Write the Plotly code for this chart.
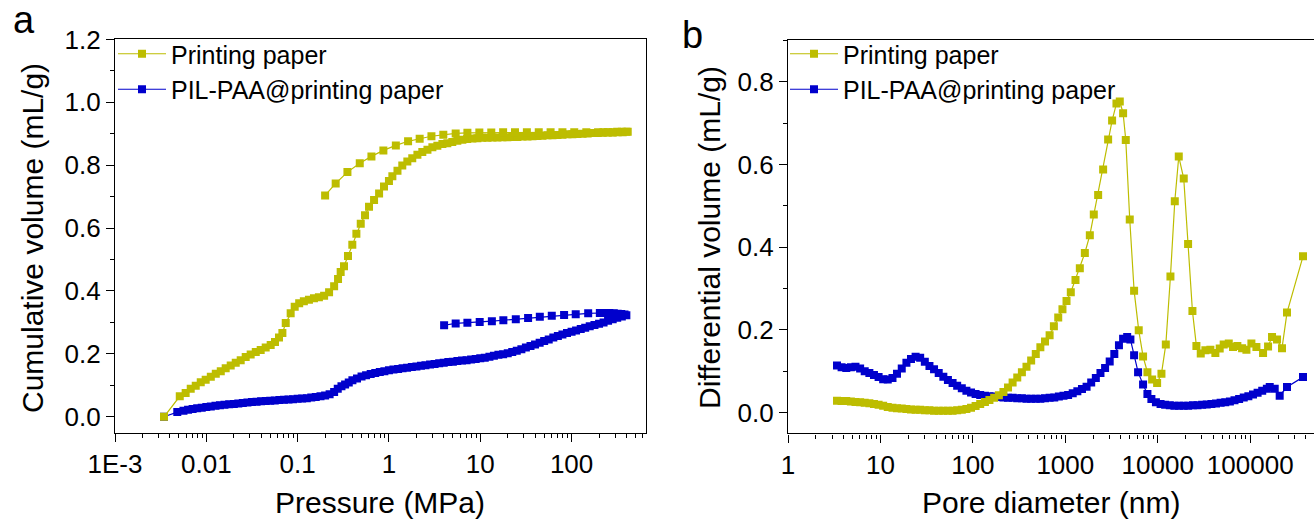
import plotly.graph_objects as go

# ---------------- Panel a: cumulative intrusion (pressure, MPa) ----------------
pp_press_intr = [0.00344, 0.00512, 0.00594, 0.00675, 0.00766, 0.00869, 0.00984, 0.0112, 0.0127, 0.0144,
                 0.0163, 0.0185, 0.0210, 0.0238, 0.0270, 0.0306, 0.0348, 0.0394, 0.0447, 0.0507,
                 0.0565, 0.0625, 0.0681, 0.0741, 0.0839, 0.0929, 0.104, 0.117, 0.133, 0.151,
                 0.171, 0.195, 0.221, 0.251, 0.277, 0.296, 0.322, 0.356, 0.397, 0.440,
                 0.491, 0.547, 0.605, 0.687, 0.780, 0.883, 1.00, 1.09, 1.24, 1.40,
                 1.59, 1.80, 2.05, 2.32, 2.64, 2.99, 3.39, 3.85, 4.36, 4.94,
                 5.61, 6.37, 7.2, 8.2, 9.3, 10.5, 12.0, 13.6, 15.4, 17.5,
                 19.8, 22.5, 25.5, 29.0, 32.9, 37.3, 42.3, 48.0, 54.5, 61.8,
                 70.1, 79.5, 90.2, 102, 116, 132, 150, 170, 193, 219,
                 248, 282, 320, 363, 412]
pp_vol_intr = [0.000, 0.065, 0.076, 0.089, 0.099, 0.110, 0.118, 0.127, 0.137, 0.145,
               0.154, 0.163, 0.172, 0.180, 0.190, 0.198, 0.206, 0.212, 0.220, 0.228,
               0.238, 0.252, 0.266, 0.298, 0.329, 0.350, 0.361, 0.367, 0.372, 0.377,
               0.380, 0.385, 0.396, 0.415, 0.438, 0.460, 0.479, 0.511, 0.547, 0.582,
               0.614, 0.641, 0.668, 0.689, 0.710, 0.732, 0.750, 0.765, 0.782, 0.799,
               0.812, 0.822, 0.833, 0.842, 0.849, 0.857, 0.862, 0.867, 0.870, 0.874,
               0.878, 0.881, 0.883, 0.885, 0.886, 0.887, 0.887, 0.888, 0.888, 0.889,
               0.889, 0.890, 0.890, 0.891, 0.891, 0.892, 0.893, 0.894, 0.895, 0.895,
               0.896, 0.897, 0.898, 0.898, 0.899, 0.900, 0.901, 0.902, 0.902, 0.903,
               0.904, 0.904, 0.905, 0.905, 0.906]
pp_press_extr = [398, 355, 316, 282, 251, 224, 195, 145, 107, 79.4,
                 58.9, 43.7, 32.4, 24.0, 17.8, 13.2, 9.77, 7.23, 5.38, 3.94,
                 2.92, 2.17, 1.62, 1.19, 0.869, 0.643, 0.479, 0.351, 0.261, 0.200]
pp_vol_extr = [0.906, 0.906, 0.906, 0.905, 0.905, 0.905, 0.905, 0.905, 0.905, 0.905,
               0.905, 0.905, 0.905, 0.905, 0.905, 0.904, 0.904, 0.903, 0.901, 0.897,
               0.892, 0.884, 0.876, 0.863, 0.847, 0.828, 0.806, 0.778, 0.742, 0.704]

pil_press_intr = [0.00344, 0.00481, 0.00562, 0.00631, 0.00708, 0.00794, 0.00891, 0.0100, 0.0112, 0.0126,
                  0.0141, 0.0158, 0.0178, 0.0200, 0.0224, 0.0251, 0.0282, 0.0316, 0.0355, 0.0398,
                  0.0447, 0.0501, 0.0562, 0.0631, 0.0708, 0.0794, 0.0891, 0.100, 0.112, 0.126,
                  0.141, 0.158, 0.178, 0.200, 0.224, 0.251, 0.275, 0.302, 0.331, 0.363,
                  0.398, 0.447, 0.501, 0.562, 0.631, 0.708, 0.794, 0.891, 1.00, 1.12,
                  1.26, 1.41, 1.58, 1.78, 2.00, 2.24, 2.51, 2.82, 3.16, 3.55,
                  3.98, 4.47, 5.01, 5.62, 6.31, 7.08, 7.94, 8.91, 10.0, 11.2,
                  12.6, 14.1, 15.8, 17.8, 20.0, 22.4, 25.1, 28.2, 31.6, 35.5,
                  39.8, 44.7, 50.1, 56.2, 63.1, 70.8, 79.4, 89.1, 100, 112,
                  126, 141, 158, 178, 200, 224, 251, 282, 316, 355, 398]
pil_vol_intr = [0.000, 0.015, 0.019, 0.022, 0.025, 0.027, 0.029, 0.031, 0.033, 0.035,
                0.037, 0.038, 0.040, 0.041, 0.042, 0.044, 0.045, 0.047, 0.048, 0.049,
                0.050, 0.051, 0.052, 0.053, 0.054, 0.055, 0.056, 0.057, 0.058, 0.059,
                0.061, 0.063, 0.065, 0.068, 0.072, 0.079, 0.089, 0.097, 0.103, 0.109,
                0.116, 0.122, 0.128, 0.132, 0.136, 0.139, 0.142, 0.145, 0.148, 0.150,
                0.152, 0.154, 0.156, 0.158, 0.160, 0.162, 0.164, 0.166, 0.168, 0.170,
                0.172, 0.174, 0.175, 0.177, 0.179, 0.180, 0.182, 0.184, 0.186, 0.188,
                0.191, 0.194, 0.197, 0.199, 0.202, 0.206, 0.210, 0.215, 0.220, 0.225,
                0.230, 0.235, 0.241, 0.246, 0.252, 0.257, 0.262, 0.266, 0.270, 0.274,
                0.279, 0.283, 0.288, 0.292, 0.296, 0.300, 0.305, 0.310, 0.315, 0.319, 0.323]
pil_press_extr = [380, 350, 320, 290, 260, 230, 204, 152, 111, 82.8,
                  60.7, 44.9, 33.4, 24.5, 17.9, 13.4, 9.86, 7.23, 5.38, 4.02]
pil_vol_extr = [0.325, 0.327, 0.328, 0.329, 0.330, 0.330, 0.330, 0.329, 0.326, 0.324,
                0.321, 0.318, 0.314, 0.310, 0.307, 0.304, 0.301, 0.299, 0.297, 0.291]

# ---------------- Panel b: differential volume vs pore diameter (nm) ----------------
pp_diam = [3.39, 3.80, 4.27, 4.79, 5.37, 6.03, 6.76, 7.59, 8.51, 9.55,
           10.7, 12.0, 13.5, 15.1, 17.0, 19.1, 21.4, 24.0, 26.9, 30.2,
           33.9, 38.0, 42.7, 47.9, 53.7, 60.3, 67.6, 75.9, 85.1, 95.5,
           107, 120, 135, 151, 170, 191, 214, 240, 269, 302,
           339, 380, 427, 479, 537, 603, 676, 752, 838, 931,
           1030, 1146, 1288, 1435, 1626, 1841, 2032, 2265, 2564, 2904,
           3206, 3573, 3882, 4217, 4508, 4977, 5546, 6223, 6934, 7727,
           8690, 9840, 10960, 12220, 13710, 15280, 16870, 19100, 21280, 23710,
           26180, 29170, 32730, 37070, 41980, 46770, 51640, 58610, 65160, 72610,
           81660, 90990, 103000, 116700, 137700, 156000, 172200, 195000, 220800, 250000,
           372400]
pp_dvol = [0.029, 0.028, 0.028, 0.027, 0.026, 0.025, 0.024, 0.023, 0.021, 0.019,
           0.017, 0.014, 0.012, 0.011, 0.010, 0.009, 0.008, 0.007, 0.007, 0.006,
           0.006, 0.005, 0.005, 0.005, 0.005, 0.005, 0.006, 0.007, 0.009, 0.012,
           0.016, 0.021, 0.026, 0.031, 0.036, 0.042, 0.050, 0.061, 0.073, 0.085,
           0.098, 0.111, 0.126, 0.142, 0.158, 0.172, 0.187, 0.209, 0.230, 0.250,
           0.270, 0.291, 0.321, 0.349, 0.386, 0.429, 0.479, 0.526, 0.588, 0.660,
           0.706, 0.747, 0.752, 0.724, 0.659, 0.467, 0.295, 0.199, 0.136, 0.098,
           0.080, 0.072, 0.094, 0.165, 0.329, 0.511, 0.619, 0.566, 0.408, 0.246,
           0.161, 0.143, 0.151, 0.152, 0.144, 0.155, 0.165, 0.167, 0.159, 0.161,
           0.156, 0.152, 0.167, 0.159, 0.144, 0.160, 0.183, 0.177, 0.156, 0.242,
           0.378]

pil_diam = [3.39, 3.80, 4.27, 4.79, 5.37, 6.03, 6.76, 7.59, 8.51, 9.55,
            10.7, 12.0, 13.5, 15.1, 17.0, 19.1, 21.4, 24.0, 26.9, 30.2,
            33.9, 38.0, 42.7, 47.9, 53.7, 60.3, 67.6, 75.9, 85.1, 95.5,
            107, 120, 135, 151, 170, 191, 214, 240, 269, 302,
            339, 380, 427, 479, 537, 603, 676, 759, 851, 955,
            1072, 1202, 1349, 1514, 1698, 1905, 2138, 2399, 2692, 3020,
            3388, 3802, 4217, 4667, 5058, 5546, 6124, 6934, 7727, 8531,
            9550, 10720, 12020, 13490, 15140, 16980, 19050, 21380, 23990, 26920,
            30200, 33880, 38020, 42660, 47860, 53700, 60260, 67610, 75860, 85110,
            95500, 107200, 120200, 134900, 151400, 162600, 184100, 208400, 250000, 372400]
pil_dvol = [0.114, 0.110, 0.108, 0.110, 0.111, 0.107, 0.100, 0.096, 0.091, 0.086,
            0.081, 0.080, 0.084, 0.094, 0.107, 0.121, 0.130, 0.135, 0.133, 0.123,
            0.113, 0.105, 0.096, 0.087, 0.079, 0.072, 0.065, 0.059, 0.053, 0.049,
            0.045, 0.043, 0.041, 0.040, 0.039, 0.038, 0.037, 0.036, 0.036, 0.035,
            0.035, 0.034, 0.034, 0.034, 0.034, 0.035, 0.036, 0.037, 0.039, 0.041,
            0.043, 0.047, 0.052, 0.057, 0.063, 0.073, 0.084, 0.096, 0.108, 0.124,
            0.142, 0.163, 0.179, 0.183, 0.177, 0.139, 0.098, 0.068, 0.045, 0.033,
            0.025, 0.021, 0.019, 0.018, 0.017, 0.017, 0.017, 0.017, 0.018, 0.018,
            0.019, 0.020, 0.021, 0.022, 0.024, 0.025, 0.027, 0.030, 0.033, 0.037,
            0.040, 0.044, 0.048, 0.053, 0.058, 0.062, 0.058, 0.041, 0.062, 0.086]

series_names = ["Printing paper", "PIL-PAA@printing paper"]
pa_xticks = [0.001, 0.01, 0.1, 1, 10, 100]
pa_xticktext = ["1E-3", "0.01", "0.1", "1", "10", "100"]
pb_xticks = [1, 10, 100, 1000, 10000, 100000]
pb_xticktext = ["1", "10", "100", "1000", "10000", "100000"]

YELLOW = "#BDBD00"
BLUE = "#0000CC"
FONT = "Liberation Sans, Arial, sans-serif"
W, H = 1314, 520


def px_x(p):
    return p / W


def px_y(p):
    return 1 - p / H


fig = go.Figure()


def add(x, y, name, color, xa, ya, legend, show=True):
    n = min(len(x), len(y))
    fig.add_trace(go.Scatter(
        x=x[:n], y=y[:n], name=name, mode="lines+markers", xaxis=xa, yaxis=ya,
        line=dict(color=color, width=1.2),
        marker=dict(symbol="square", size=8, color=color, line=dict(width=0)),
        legend=legend, showlegend=show))


# blue first so yellow draws on top; legend order reversed
add(pil_press_intr + pil_press_extr, pil_vol_intr + pil_vol_extr, series_names[1], BLUE, "x", "y", "legend")
add(pp_press_intr + pp_press_extr, pp_vol_intr + pp_vol_extr, series_names[0], YELLOW, "x", "y", "legend")
add(pil_diam, pil_dvol, series_names[1], BLUE, "x2", "y2", "legend2")
add(pp_diam, pp_dvol, series_names[0], YELLOW, "x2", "y2", "legend2")

pa_minor = [k * 10.0 ** e for e in range(-3, 3) for k in range(2, 10)]
pb_minor = [k * 10.0 ** e for e in range(0, 6) for k in range(2, 10)]

axis_common = dict(showline=True, linecolor="black", linewidth=1.3, ticks="outside",
                   ticklen=8, tickwidth=1.3, tickcolor="black", showgrid=False, zeroline=False,
                   automargin=False,
                   tickfont=dict(family=FONT, size=26, color="black"))
minor_common = dict(ticks="outside", ticklen=4, tickwidth=1.3, tickcolor="black", showgrid=False)
legend_common = dict(xanchor="left", yanchor="top", traceorder="reversed", itemwidth=48,
                     font=dict(family=FONT, size=25, color="black"), bgcolor="rgba(0,0,0,0)", borderwidth=0)

fig.update_layout(
    template="none",
    width=W, height=H, margin=dict(l=0, r=0, t=0, b=0, pad=0), autosize=False,
    plot_bgcolor="white", paper_bgcolor="white",
    xaxis=dict(axis_common, type="log", domain=[px_x(115), px_x(646)], range=[-3, 2.815],
               tickmode="array", tickvals=pa_xticks, ticktext=pa_xticktext, mirror=True, anchor="y",
               minor=dict(minor_common, tickvals=pa_minor)),
    yaxis=dict(axis_common, domain=[px_y(432.5), px_y(39.4)], range=[-0.05, 1.2], dtick=0.2,
               tick0=0, tickformat=".1f", mirror=True, anchor="x",
               minor=dict(minor_common, dtick=0.1, tick0=0)),
    xaxis2=dict(axis_common, type="log", domain=[px_x(788), 1.0], range=[0, 5.69],
                tickmode="array", tickvals=pb_xticks, ticktext=pb_xticktext, mirror=True, anchor="y2",
                minor=dict(minor_common, tickvals=pb_minor)),
    yaxis2=dict(axis_common, domain=[px_y(433.4), px_y(40.3)], range=[-0.05, 0.9], dtick=0.2,
                tick0=0, tickformat=".1f", mirror=False, anchor="x2",
                minor=dict(minor_common, dtick=0.1, tick0=0)),
    legend=dict(legend_common, x=px_x(113), y=px_y(31)),
    legend2=dict(legend_common, x=px_x(785), y=px_y(31)),
)

ann_font = dict(family=FONT, size=30, color="black")
fig.add_annotation(text="Pressure (MPa)", x=px_x(380), y=px_y(502), xref="paper", yref="paper",
                   showarrow=False, font=ann_font, xanchor="center", yanchor="middle")
fig.add_annotation(text="Pore diameter (nm)", x=px_x(1051), y=px_y(502), xref="paper", yref="paper",
                   showarrow=False, font=ann_font, xanchor="center", yanchor="middle")
fig.add_annotation(text="Cumulative volume (mL/g)", x=px_x(33), y=px_y(238), xref="paper", yref="paper",
                   showarrow=False, font=ann_font, textangle=-90, xanchor="center", yanchor="middle")
fig.add_annotation(text="Differential volume (mL/g)", x=px_x(710), y=px_y(238), xref="paper", yref="paper",
                   showarrow=False, font=ann_font, textangle=-90, xanchor="center", yanchor="middle")
fig.add_annotation(text="a", x=px_x(24), y=px_y(20), xref="paper", yref="paper",
                   showarrow=False, font=dict(family=FONT, size=38, color="black"), xanchor="center", yanchor="middle")
fig.add_annotation(text="b", x=px_x(692), y=px_y(35), xref="paper", yref="paper",
                   showarrow=False, font=dict(family=FONT, size=38, color="black"), xanchor="center", yanchor="middle")

fig.write_html("out.html", config={"displayModeBar": False},
               post_script="document.body.style.margin='0';document.body.style.overflow='hidden';")
